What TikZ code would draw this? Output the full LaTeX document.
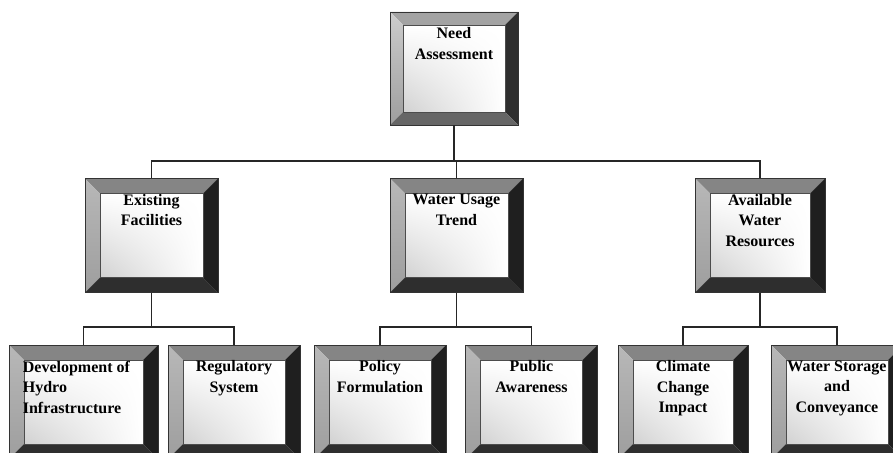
\documentclass[tikz,border=0pt]{standalone}
\usepackage{fontspec}
\setmainfont{Liberation Serif}
\usepackage{tikz}
\usetikzlibrary{positioning,calc,shadings}

% bevel width, top, left, right, bottom colours
\newcommand{\bevels}[5]{%
	\coordinate (bnw) at (path picture bounding box.north west);
	\coordinate (bne) at (path picture bounding box.north east);
	\coordinate (bsw) at (path picture bounding box.south west);
	\coordinate (bse) at (path picture bounding box.south east);
	\coordinate (inw) at ($(bnw)+(#1,-#1)$);
	\coordinate (ine) at ($(bne)+(-#1,-#1)$);
	\coordinate (isw) at ($(bsw)+(#1,#1)$);
	\coordinate (ise) at ($(bse)+(-#1,#1)$);
	\shade[upper left=white, upper right=white, lower right=white, lower left=black!18] (inw) rectangle (ise);
	\fill[#2] (bnw) -- (bne) -- (ine) -- (inw) -- cycle;
	\shade[top color=#3, bottom color=black!38] (bnw) -- (inw) -- (isw) -- (bsw) -- cycle;
	\fill[#4] (bne) -- (bse) -- (ise) -- (ine) -- cycle;
	\fill[#5] (bsw) -- (bse) -- (ise) -- (isw) -- cycle;
	\draw[black!70, line width=0.5pt] (inw) rectangle (ise);
}

\tikzset{
	frame/.style={minimum width=133pt, minimum height=114pt, inner sep=0pt,
		draw=black!80, line width=0.7pt,
		path picture={\bevels{15pt}{black!48}{black!28}{black!88}{black!82}}},
	headframe/.style={minimum width=128pt, minimum height=113pt, inner sep=0pt,
		draw=black!80, line width=0.7pt,
		path picture={\bevels{13pt}{black!36}{black!20}{black!82}{black!60}}},
	caption/.style={inner sep=0pt, align=center, font=\bfseries\fontsize{16}{20.5}\selectfont},
	link/.style={draw=black!85, line width=1.2pt}
}

\begin{document}
\begin{tikzpicture}[x=1pt,y=1pt]

	\useasboundingbox (0,0) rectangle (893,-452);
	\clip (0,0) rectangle (893,-452);

	% top
	\node[headframe] (need) at (454,-68.5) {};
	\node[caption, below=16pt of need.north] (need-t) {Need\\Assessment};

	% middle row
	\node[frame] (exist) at (151.5,-235.5) {};
	\node[frame] (usage) at (456.5,-235.5) {};
	\node[frame, minimum width=130pt] (avail) at (760,-235.5) {};
	\node[caption, below=16pt of exist.north] (exist-t) {Existing\\Facilities};
	\node[caption, below=16pt of usage.north] (usage-t) {Water Usage\\Trend};
	\node[caption, below=16pt of avail.north] (avail-t) {Available\\Water\\Resources};

	% bottom row
	\node[frame, minimum width=149pt] (dev) at (83.5,-402) {};
	\node[frame, minimum width=132pt] (reg) at (234,-402) {};
	\node[frame, minimum width=132pt] (policy) at (380,-402) {};
	\node[frame, minimum width=132pt] (public) at (531.5,-402) {};
	\node[frame, minimum width=130pt] (climate) at (683,-402) {};
	\node[frame, minimum width=132pt] (storage) at (837,-402) {};
	\node[caption, align=left, below right=16pt and 14pt of dev.north west] (dev-t) {Development of\\Hydro\\Infrastructure};
	\node[caption, below=16pt of reg.north] (reg-t) {Regulatory\\System};
	\node[caption, below=16pt of policy.north] (policy-t) {Policy\\Formulation};
	\node[caption, below=16pt of public.north] (public-t) {Public\\Awareness};
	\node[caption, below=16pt of climate.north] (climate-t) {Climate\\Change\\Impact};
	\node[caption, below=16pt of storage.north] (storage-t) {Water Storage\\and\\Conveyance};

	% connectors
	\coordinate (bus) at (0,-161);
	\coordinate (bus2) at (0,-327);
	\draw[link] (need.south) -- (need.south |- bus);
	\draw[link] (exist.north) |- (avail.north |- bus) -- (avail.north);
	\draw[link] (usage.north) -- (usage.north |- bus);

	\draw[link] (exist.south) -- (exist.south |- bus2);
	\draw[link] (dev.north) |- (reg.north |- bus2) -- (reg.north);
	\draw[link] (usage.south) -- (usage.south |- bus2);
	\draw[link] (policy.north) |- (public.north |- bus2) -- (public.north);
	\draw[link] (avail.south) -- (avail.south |- bus2);
	\draw[link] (climate.north) |- (storage.north |- bus2) -- (storage.north);
\end{tikzpicture}
\end{document}
